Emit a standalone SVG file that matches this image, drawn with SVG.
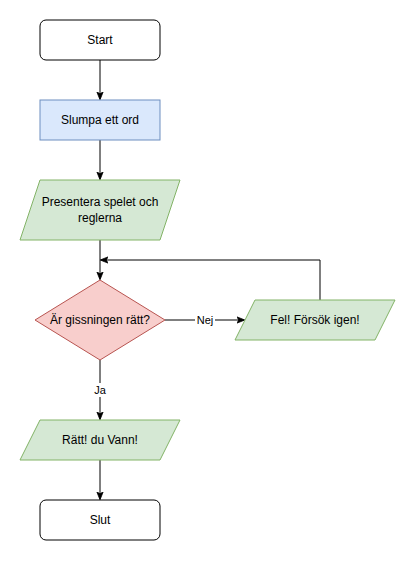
<svg xmlns="http://www.w3.org/2000/svg" width="415" height="561" viewBox="0 0 415 561">
<style>
text{font-family:"Liberation Sans",Arial,sans-serif;font-size:12px;fill:#000;text-anchor:middle;dominant-baseline:central}
.term{fill:#fff;stroke:#000;stroke-width:1}
.blue{fill:#dae8fc;stroke:#6c8ebf;stroke-width:1}
.green{fill:#d5e8d4;stroke:#82b366;stroke-width:1}
.red{fill:#f8cecc;stroke:#b85450;stroke-width:1}
.edge{fill:none;stroke:#000;stroke-width:1}
.lbl{font-size:11px}
</style>
<defs>
<marker id="arr" viewBox="0 0 10 10" refX="9" refY="5" markerWidth="8" markerHeight="8" markerUnits="userSpaceOnUse" orient="auto">
<path d="M0,1 L10,5 L0,9 L2.5,5 Z" fill="#000" stroke="#000" stroke-width="1"/>
</marker>
</defs>
<rect width="415" height="561" fill="#fff"/>
<g id="edges">
<path class="edge" d="M100,60 V99" marker-end="url(#arr)"/>
<path class="edge" d="M100,140 V179" marker-end="url(#arr)"/>
<path class="edge" d="M100,240 V279" marker-end="url(#arr)"/>
<path class="edge" d="M165,320 H244" marker-end="url(#arr)"/>
<path class="edge" d="M320,300 V260 H101" marker-end="url(#arr)"/>
<path class="edge" d="M100,360 V419" marker-end="url(#arr)"/>
<path class="edge" d="M100,460 V499" marker-end="url(#arr)"/>
<rect x="195" y="313" width="20" height="14" fill="#fff"/>
<text class="lbl" x="205" y="320">Nej</text>
<rect x="93" y="383" width="14" height="14" fill="#fff"/>
<text class="lbl" x="100" y="390">Ja</text>
</g>
<g id="start">
<rect class="term" x="40" y="20" width="120" height="40" rx="6"/>
<text x="100" y="40">Start</text>
</g>
<g id="slumpa">
<rect class="blue" x="40" y="100" width="120" height="40"/>
<text x="100" y="120">Slumpa ett ord</text>
</g>
<g id="presentera">
<polygon class="green" points="40,180 180,180 160,240 20,240"/>
<text x="100" y="202">Presentera spelet och</text>
<text x="100" y="218">reglerna</text>
</g>
<g id="fraga">
<polygon class="red" points="100,280 165,320 100,360 35,320"/>
<text x="100" y="320">Är gissningen rätt?</text>
</g>
<g id="fel">
<polygon class="green" points="255,300 395,300 375,340 235,340"/>
<text x="315" y="320">Fel! Försök igen!</text>
</g>
<g id="ratt">
<polygon class="green" points="40,420 180,420 160,460 20,460"/>
<text x="100" y="440">Rätt! du Vann!</text>
</g>
<g id="slut">
<rect class="term" x="40" y="500" width="120" height="40" rx="6"/>
<text x="100" y="520">Slut</text>
</g>
</svg>
